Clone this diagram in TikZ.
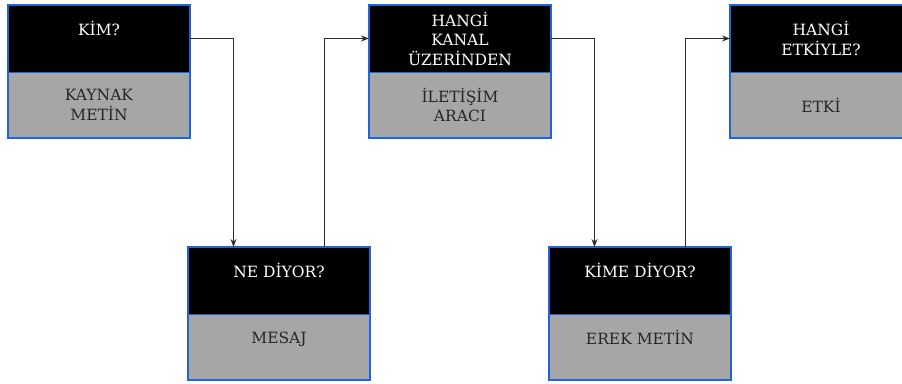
\documentclass[tikz,border=0pt]{standalone}
\usepackage{fontspec}
\setmainfont{DejaVu Serif}
\usetikzlibrary{positioning, arrows.meta, calc}
\definecolor{boxblue}{RGB}{30, 100, 220}
\definecolor{bodygray}{RGB}{166, 166, 166}
\definecolor{linegray}{RGB}{45, 45, 45}

\begin{document}
\begin{tikzpicture}[
    x=1pt, y=-1pt, % pixel-like units, y grows downwards
    cell/.style={ % Base style for the two halves of a box
        rectangle,
        minimum width=182pt,
        inner sep=0pt,
        outer sep=0pt,
        align=center,
        font=\fontsize{15.5}{19.5}\selectfont,
        draw=boxblue,
        line width=1pt
    },
    head/.style={cell, fill=black, text=white, minimum height=67pt, anchor=north west},
    body/.style={cell, fill=bodygray, text=black!85, minimum height=66pt},
    % Outer blue frame
    frame/.style={draw=boxblue, line width=2pt},
    % Connector style
    arrow/.style={
        -{Stealth[length=8pt, width=6pt]},
        line width=1.4pt,
        draw=linegray
    }
]
\useasboundingbox (0,0) rectangle (902,383);
\clip (0,0) rectangle (902,383);

% Upper row
\node[head] (kim) at (8,5) {KİM?\\~};
\node[body, below=0pt of kim] (kaynak) {KAYNAK\\METİN};
\node[head] (kanal) at (369,5) {HANGİ\\KANAL\\ÜZERİNDEN};
\node[body, below=0pt of kanal] (arac) {İLETİŞİM\\ARACI};
\node[head] (etkiyle) at (730,5) {HANGİ\\ETKİYLE?};
\node[body, below=0pt of etkiyle] (etki) {ETKİ};

% Lower row
\node[head] (nediyor) at (188,247) {NE DİYOR?\\~};
\node[body, below=0pt of nediyor] (mesaj) {MESAJ\\~};
\node[head] (kime) at (549,247) {KİME DİYOR?\\~};
\node[body, below=0pt of kime] (erek) {EREK METİN\\~};

% Frames round each box
\draw[frame] (kim.north west) rectangle (kaynak.south east);
\draw[frame] (kanal.north west) rectangle (arac.south east);
\draw[frame] (etkiyle.north west) rectangle (etki.south east);
\draw[frame] (nediyor.north west) rectangle (mesaj.south east);
\draw[frame] (kime.north west) rectangle (erek.south east);

% Connectors
\draw[arrow] (kim.east) -| ($(nediyor.north west)!0.25!(nediyor.north east)$);
\draw[arrow] ($(nediyor.north west)!0.75!(nediyor.north east)$) |- (kanal.west);
\draw[arrow] (kanal.east) -| ($(kime.north west)!0.25!(kime.north east)$);
\draw[arrow] ($(kime.north west)!0.75!(kime.north east)$) |- (etkiyle.west);

\end{tikzpicture}
\end{document}
